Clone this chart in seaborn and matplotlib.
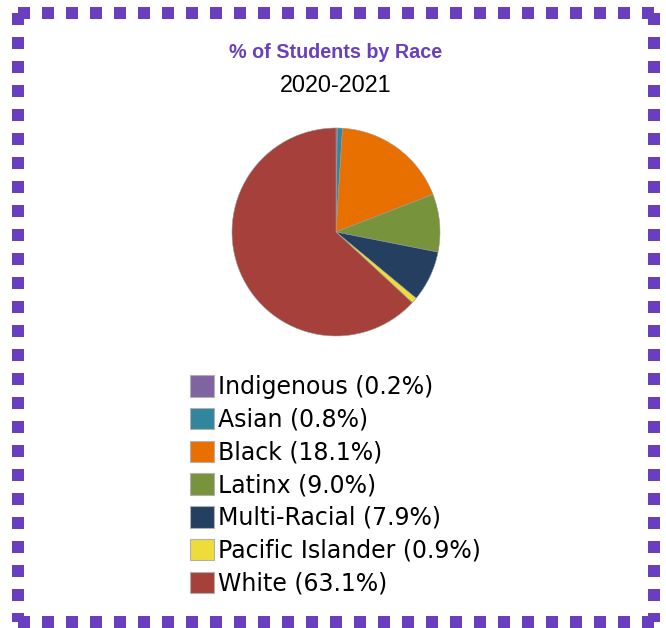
import matplotlib
matplotlib.use("Agg")
import matplotlib.pyplot as plt
import matplotlib.patches as mpatches
from matplotlib.lines import Line2D
import seaborn as sns

groups = ["Indigenous", "Asian", "Black", "Latinx", "Multi-Racial", "Pacific Islander", "White"]
shares = [0.2, 0.8, 18.1, 9.0, 7.9, 0.9, 63.1]
colors = ["#8064a2", "#31859c", "#e87000", "#77933c", "#243f60", "#eedc3a", "#a5403a"]
title = "% of Students by Race"
subtitle = "2020-2021"

sns.set_theme(style="white")
plt.rcParams["font.family"] = ["DejaVu Sans"]
purple = "#6a3fbf"

W, H = 666, 628
fig = plt.figure(figsize=(W / 100, H / 100), dpi=100)

# pie axes, centre (336, 232) px, radius 104 px
cx, cy, r = 336, 232, 104
ax = fig.add_axes([(cx - r) / W, (H - cy - r) / H, 2 * r / W, 2 * r / H])
ax.pie(shares, colors=colors, startangle=90, counterclock=False, radius=1,
       wedgeprops=dict(edgecolor="#9a9a9a", linewidth=0.4))
ax.set_xlim(-1, 1)
ax.set_ylim(-1, 1)
ax.set_aspect("equal")
ax.axis("off")

fig.text(cx / W, 1 - 53 / H, title, ha="center", va="center", color=purple,
         fontsize=14.2, fontweight="bold", family=["Liberation Sans", "DejaVu Sans"])
fig.text(cx / W, 1 - 86 / H, subtitle, ha="center", va="center", color="black",
         fontsize=16.8, family=["Liberation Sans", "DejaVu Sans"])

labels = [f"{g} ({s:.1f}%)" for g, s in zip(groups, shares)]
handles = [mpatches.Patch(facecolor=c, edgecolor="#b0b0b0", linewidth=0.8) for c in colors]
fig.legend(handles, labels, loc="upper left", bbox_to_anchor=(190 / W, 1 - 375 / H),
           frameon=False, fontsize=17, labelcolor="black", borderpad=0, borderaxespad=0,
           handlelength=1.02, handleheight=1.02, handletextpad=0.17, labelspacing=0.37)

# dashed purple frame, each side starts its dashes from the top / left corner
x0, x1, y0, y1 = 18, 654, 13, 622
sides = [([x0, x1], [y0, y0]), ([x0, x1], [y1, y1]), ([x0, x0], [y0, y1]), ([x1, x1], [y0, y1])]
for xs, ys in sides:
    fig.add_artist(Line2D([x / W for x in xs], [1 - y / H for y in ys], transform=fig.transFigure,
                          color=purple, linewidth=12 * 0.72, linestyle=(0, (1, 1)),
                          dash_capstyle="butt"))

fig.savefig("out.png", dpi=100)
